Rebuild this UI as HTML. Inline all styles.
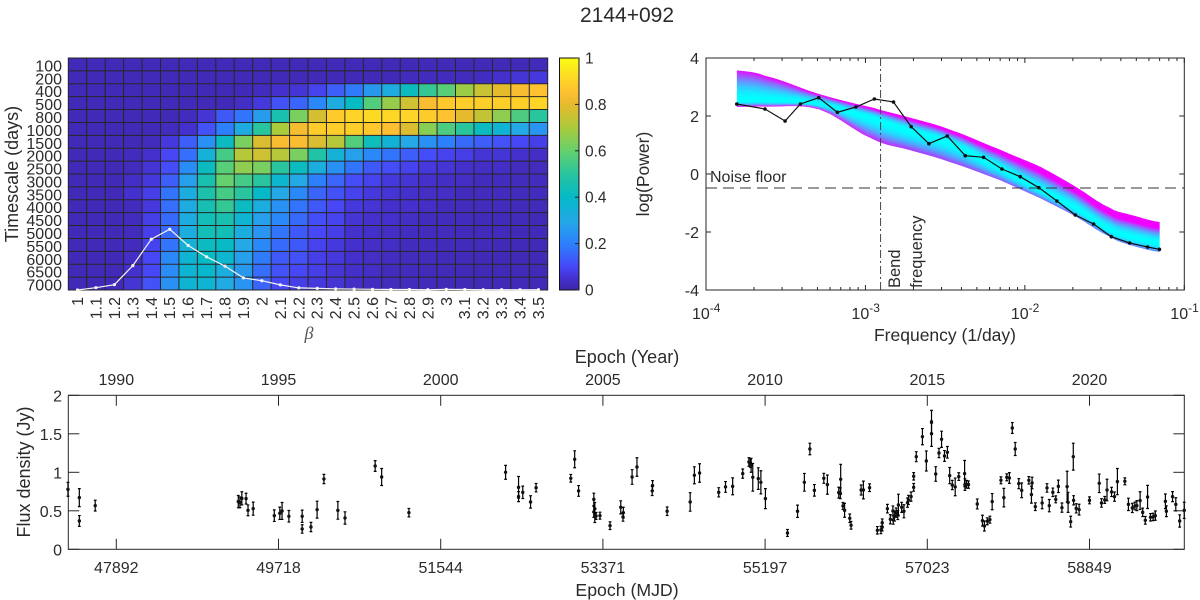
<!DOCTYPE html>
<html>
<head>
<meta charset="utf-8">
<title>2144+092</title>
<style>
html,body{margin:0;padding:0;background:#fff;}
#chart{display:block;position:absolute;left:0;top:0;}
text{font-family:"Liberation Sans",Arial,sans-serif;fill:#2b2b2b;font-size:16px;}
</style>
</head>
<body>
<svg id="chart" width="1200" height="600" viewBox="0 0 1200 600" xmlns="http://www.w3.org/2000/svg">
  <defs id="bandDefs"></defs>
  <rect x="0" y="0" width="1200" height="600" fill="#fff"/>
  <text x="627" y="22" text-anchor="middle" style="font-size:21px">2144+092</text>

  <g id="heat"></g>
  <text transform="translate(18,174) rotate(-90)" text-anchor="middle" style="font-size:18px">Timescale (days)</text>
  <text x="309" y="339" text-anchor="middle" style="font-family:'Liberation Serif',serif;font-style:italic;font-size:18px;fill:#555">β</text>
  <g id="cbar"></g>

  <g id="psd"></g>
  <text transform="translate(649,174) rotate(-90)" text-anchor="middle" style="font-size:17.5px">log(Power)</text>
  <text x="945" y="341" text-anchor="middle" style="font-size:17.5px">Frequency (1/day)</text>
  <text x="710" y="182" style="font-size:16px">Noise floor</text>
  <text transform="translate(900,288) rotate(-90)" style="font-size:16.5px">Bend</text>
  <text transform="translate(922,288) rotate(-90)" style="font-size:16.5px">frequency</text>

  <g id="lc"></g>
  <text transform="translate(30,472) rotate(-90)" text-anchor="middle" style="font-size:18px">Flux density (Jy)</text>
  <text x="627" y="363" text-anchor="middle" style="font-size:18px">Epoch (Year)</text>
  <text x="627" y="596" text-anchor="middle" style="font-size:17.7px">Epoch (MJD)</text>
</svg>
<script>
// ---------- heatmap data ----------
var betaLabels = ["1","1.1","1.2","1.3","1.4","1.5","1.6","1.7","1.8","1.9","2","2.1","2.2","2.3","2.4","2.5","2.6","2.7","2.8","2.9","3","3.1","3.2","3.3","3.4","3.5"];
var timescaleLabels = ["100","200","400","500","800","1000","1500","2000","2500","3000","3500","4000","4500","5000","5500","6000","6500","7000"];
var heatValues = [
[.02,.02,.02,.02,.02,.02,.02,.02,.02,.02,.02,.02,.02,.02,.02,.02,.02,.02,.02,.02,.02,.02,.02,.02,.02,.025],
[.02,.02,.02,.02,.02,.02,.02,.02,.02,.02,.02,.02,.02,.02,.02,.02,.02,.02,.03,.03,.03,.03,.035,.05,.06,.07],
[.02,.02,.02,.02,.02,.02,.02,.02,.02,.02,.03,.05,.06,.09,.14,.19,.26,.32,.42,.52,.58,.68,.75,.8,.84,.86],
[.02,.02,.02,.02,.02,.02,.02,.02,.02,.04,.07,.12,.15,.22,.32,.41,.57,.67,.76,.84,.875,.89,.89,.89,.895,.905],
[.02,.02,.02,.02,.02,.02,.03,.06,.13,.18,.27,.46,.63,.77,.885,.905,.92,.91,.905,.885,.86,.8,.74,.66,.56,.5],
[.02,.02,.02,.02,.02,.03,.05,.12,.2,.32,.5,.7,.83,.885,.89,.89,.875,.85,.78,.65,.56,.5,.42,.36,.3,.25],
[.02,.02,.02,.02,.03,.07,.14,.24,.42,.63,.78,.84,.84,.78,.72,.57,.43,.36,.3,.24,.2,.16,.14,.12,.1,.08],
[.02,.02,.02,.03,.05,.1,.17,.35,.55,.72,.76,.72,.63,.48,.35,.28,.22,.18,.14,.11,.09,.08,.06,.06,.05,.04],
[.02,.02,.02,.03,.06,.11,.23,.42,.58,.66,.63,.5,.42,.33,.24,.18,.13,.11,.09,.07,.06,.05,.04,.04,.03,.03],
[.02,.02,.02,.04,.07,.14,.28,.46,.6,.55,.5,.38,.3,.2,.15,.11,.09,.07,.06,.05,.04,.04,.03,.03,.03,.03],
[.02,.02,.02,.05,.08,.18,.33,.47,.55,.5,.4,.3,.22,.15,.12,.09,.07,.06,.05,.04,.04,.03,.03,.03,.03,.03],
[.02,.02,.02,.03,.07,.17,.32,.45,.52,.42,.33,.24,.18,.13,.1,.07,.06,.05,.05,.04,.03,.03,.03,.03,.025,.025],
[.02,.02,.02,.03,.08,.16,.32,.44,.46,.37,.28,.22,.16,.11,.09,.06,.05,.05,.04,.03,.03,.03,.025,.025,.025,.02],
[.02,.02,.02,.03,.08,.16,.33,.44,.44,.33,.25,.18,.13,.1,.08,.05,.045,.04,.035,.03,.03,.025,.025,.025,.02,.02],
[.02,.02,.02,.03,.09,.18,.35,.42,.41,.3,.22,.16,.13,.09,.07,.05,.04,.04,.03,.03,.025,.025,.025,.02,.02,.02],
[.02,.02,.02,.04,.1,.22,.37,.41,.38,.28,.19,.13,.12,.08,.07,.05,.04,.035,.03,.03,.025,.025,.02,.02,.02,.02],
[.02,.02,.02,.05,.1,.23,.37,.39,.33,.26,.17,.12,.1,.08,.06,.045,.04,.03,.03,.025,.025,.02,.02,.02,.02,.02],
[.02,.02,.02,.06,.12,.24,.37,.37,.31,.25,.15,.1,.08,.07,.06,.04,.035,.03,.03,.025,.02,.02,.02,.02,.02,.02]
];
var marginalValues = [0,.01,.023,.105,.219,.262,.192,.143,.103,.052,.04,.022,.009,.007,.005,.004,.003,.002,.002,.001,.003,.002,.001,.001,.001,.001];
var colorbarTicks = [0,.2,.4,.6,.8,1];

// ---------- spectrum data ----------
var psdLogFreq = [-3.807,-3.63,-3.504,-3.408,-3.293,-3.176,-3.06,-2.944,-2.824,-2.713,-2.602,-2.487,-2.374,-2.259,-2.144,-2.029,-1.912,-1.799,-1.684,-1.569,-1.458,-1.343,-1.23,-1.156];
var psdLogPower = [2.414,2.241,1.828,2.414,2.631,2.128,2.31,2.586,2.483,1.631,1.045,1.31,.631,.576,.172,-.093,-.472,-.931,-1.414,-1.724,-2.162,-2.379,-2.517,-2.597];
var bandLogFreq = [-3.805,-3.63,-3.291,-2.952,-2.719,-2.468,-2.154,-1.903,-1.684,-1.464,-1.338,-1.156];
var bandUpper = [3.562,3.379,2.748,2.276,1.931,1.517,.828,.241,-.438,-1.183,-1.414,-1.666];
var bandCore = [2.52,2.52,2.42,1.931,1.483,1.069,.2,-.552,-1.172,-1.931,-2.172,-2.379];
var bandLower = [2.32,2.33,2.24,1.207,.828,.414,-.207,-.828,-1.448,-2.162,-2.448,-2.679];
var noiseFloor = -0.483;
var bendLogFreq = -2.905;
var psdYTicks = [-4,-2,0,2,4];
var psdXDecades = [-4,-3,-2,-1];

// ---------- light curve data ----------
var epochYear = [1988.51,1988.86,1988.86,1989.35,1993.76,1993.81,1993.87,1994.0,1994.06,1994.22,1994.87,1995.04,1995.11,1995.32,1995.73,1995.73,1996.0,1996.19,1996.4,1996.83,1997.05,1997.98,1998.18,1999.02,
2002.0,2002.4,2002.4,2002.53,2002.77,2002.94,2004.01,2004.13,2004.25,2004.72,2004.72,2004.75,2004.75,2004.79,2004.91,2005.22,2005.55,2005.63,2005.62,2005.9,2006.05,2006.53,2006.52,2006.98,2007.69,2007.82,2007.98,2008.57,2008.78,2009.0,2009.31,2009.5,2009.55,2009.57,2009.62,2009.79,2009.87,2010.01,2010.69,2011.0,2011.21,2011.38,2011.52,2011.81,2011.92,
2012.27,2012.33,2012.32,2012.4,2012.45,2012.61,2012.65,2012.96,2013.03,2013.22,2013.46,2013.57,2013.61,2013.61,2013.77,2013.86,2013.94,2013.95,2013.99,2014.04,2014.09,2014.11,2014.21,2014.28,2014.39,2014.42,2014.5,2014.58,2014.58,2014.66,2014.85,2014.97,2015.13,2015.13,2015.26,2015.36,2015.44,2015.53,2015.62,2015.69,2015.77,2015.86,2015.97,2016.15,2016.16,2016.21,2016.27,2016.54,2016.7,2016.76,2016.85,2016.93,2017.0,2017.27,2017.36,2017.45,2017.53,2017.62,2017.71,2017.82,2017.91,2018.13,2018.23,2018.21,2018.33,2018.54,2018.76,2018.69,2018.87,2018.96,2019.04,2019.15,2019.31,2019.34,2019.42,2019.5,2019.51,2019.59,2019.68,2020.0,2020.3,2020.37,2020.47,2020.54,2020.68,2020.77,2020.86,2021.09,2021.2,2021.32,2021.4,2021.46,2021.56,2021.64,2021.72,2021.79,2021.88,2021.96,2022.03,2022.34,2022.37,2022.56,2022.66,2022.78,2022.92];
var fluxJy = [.779,.671,.368,.567,.619,.61,.662,.658,.506,.528,.437,.468,.498,.429,.429,.264,.29,.515,.913,.506,.407,1.082,.939,.476,
1.0,.805,.684,.74,.615,.8,.922,1.169,.758,.649,.485,.528,.433,.433,.437,.307,.545,.476,.42,.939,1.069,.827,.758,.494,.615,.961,.991,.74,.81,.818,.983,1.134,1.117,1.091,.935,.918,.87,.658,.212,.494,.87,1.303,.766,.922,.84,
.736,.909,.727,.563,.506,.403,.312,.77,.77,.8,.247,.251,.286,.346,.528,.39,.498,.381,.433,.476,.446,.576,.545,.494,.606,.641,.684,.805,.948,1.203,1.463,1.147,1.502,1.649,.978,1.251,1.429,1.212,1.26,.957,.835,.81,.944,.983,.84,.844,.84,.589,.372,.303,.364,.385,.619,.896,.671,.935,.926,1.576,1.303,.853,.766,.896,.861,.71,.554,.602,.567,.797,.74,.649,.818,.541,.814,.61,.359,1.203,.636,.532,.515,.636,.857,.602,.641,.77,.745,.684,.879,.883,.584,.537,.563,.567,.632,.48,.377,.68,.416,.42,.437,.623,.494,.684,.584,.368,.506];
var fluxErr = [.09,.117,.07,.07,.08,.07,.085,.07,.07,.085,.075,.08,.11,.075,.08,.055,.06,.11,.06,.115,.08,.07,.11,.055,
.09,.14,.065,.08,.08,.055,.05,.11,.07,.08,.07,.08,.085,.045,.045,.05,.085,.07,.055,.095,.12,.065,.06,.055,.12,.11,.12,.06,.07,.11,.06,.055,.055,.09,.18,.14,.15,.13,.045,.08,.115,.075,.075,.065,.125,
.07,.195,.07,.045,.09,.055,.05,.065,.115,.05,.048,.048,.048,.048,.055,.06,.065,.055,.065,.06,.06,.14,.065,.085,.06,.06,.06,.05,.048,.065,.105,.13,.165,.155,.095,.06,.105,.07,.075,.105,.06,.115,.05,.17,.075,.05,.048,.065,.07,.065,.045,.045,.105,.045,.12,.045,.07,.07,.085,.065,.095,.048,.075,.11,.05,.075,.08,.055,.055,.045,.08,.06,.2,.13,.07,.175,.06,.06,.07,.045,.12,.055,.045,.14,.06,.06,.17,.045,.08,.06,.05,.065,.115,.055,.05,.15,.048,.048,.06,.095,.07,.065,.085,.08,.105];
var yearTicks = [1990,1995,2000,2005,2010,2015,2020];
var mjdTickLabels = ["47892","49718","51544","53371","55197","57023","58849"];
var fluxTicks = [0,.5,1,1.5,2];
var fluxTickLabels = ["0","0.5","1","1.5","2"];
var colorbarLabels = ["0","0.2","0.4","0.6","0.8","1"];

// ---------- helpers ----------
var NS = 'http://www.w3.org/2000/svg';
function mk(parent, tag, attrs, txt) {
  var el = document.createElementNS(NS, tag);
  for (var k in attrs) el.setAttribute(k, attrs[k]);
  if (txt !== undefined) el.textContent = txt;
  parent.appendChild(el);
  return el;
}
var AXIS = '#262626';
var stops = [[0,62,38,168],[.05,68,48,205],[.1,71,71,246],[.2,45,128,253],[.3,36,168,230],[.4,5,185,200],[.5,40,197,158],[.6,100,208,110],[.7,170,203,60],[.8,230,186,45],[.85,254,190,50],[.9,253,210,40],[1,249,251,21]];
function parula(v) {
  v = Math.max(0, Math.min(1, v));
  for (var i = 1; i < stops.length; i++) {
    if (v <= stops[i][0]) {
      var a = stops[i-1], b = stops[i], t = (v-a[0])/(b[0]-a[0]);
      return 'rgb(' + Math.round(a[1]+(b[1]-a[1])*t) + ',' + Math.round(a[2]+(b[2]-a[2])*t) + ',' + Math.round(a[3]+(b[3]-a[3])*t) + ')';
    }
  }
  return 'rgb(249,251,21)';
}

// ---------- heatmap ----------
(function () {
  var g = document.getElementById('heat');
  var L = 68.3, R = 547.7, T = 58, B = 290;
  var cw = (R-L)/betaLabels.length, rh = (B-T)/timescaleLabels.length;
  function colX(i) { return L + cw*i; }
  function rowY(j) { return T + rh*j; }
  function margY(v) { return B - v*232; }
  heatValues.forEach(function (row, j) {
    row.forEach(function (v, i) {
      var c = mk(g, 'rect', {x: colX(i), y: rowY(j), width: cw+.3, height: rh+.3, fill: parula(v)});
      
      
    });
  });
  for (var i = 1; i < betaLabels.length; i++) {
    var vl = mk(g, 'line', {x1: colX(i), x2: colX(i), y1: T, y2: B, stroke: '#2a2626', 'stroke-width': 1});
    
    
  }
  for (var j = 1; j < timescaleLabels.length; j++) {
    var hl = mk(g, 'line', {x1: L, x2: R, y1: rowY(j), y2: rowY(j), stroke: '#2a2626', 'stroke-width': 1});
    
    
  }
  var box = mk(g, 'rect', {x: L, y: T, width: R-L, height: B-T, fill: 'none', stroke: AXIS, 'stroke-width': 1});
  
  
  timescaleLabels.forEach(function (s, j) {
    var t = mk(g, 'text', {x: 62, y: rowY(j) + rh/2 + 7, 'text-anchor': 'end'}, s);
    
    
  });
  betaLabels.forEach(function (s, i) {
    var cx = colX(i) + cw/2 + 5.5;
    var t = mk(g, 'text', {transform: 'translate(' + cx + ',297) rotate(-90)', 'text-anchor': 'end'}, s);
    
    
  });
  var pts = marginalValues.map(function (v, i) { return (colX(i)+cw/2) + ',' + margY(v); }).join(' ');
  var pl = mk(g, 'polyline', {points: pts, fill: 'none', stroke: '#f4f4f4', 'stroke-width': 1.2});
  
  
  marginalValues.forEach(function (v, i) {
    var d = mk(g, 'circle', {cx: colX(i)+cw/2, cy: margY(v), r: 1.6, fill: '#f4f4f4'});
    
    
  });
})();

// ---------- colorbar ----------
(function () {
  var g = document.getElementById('cbar');
  var L = 559.5, R = 579, T = 58, B = 290;
  function y(v) { return B - v*(B-T); }
  for (var k = 0; k < 116; k++) {
    var s = mk(g, 'rect', {x: L, y: y((k+1)/116), width: R-L, height: (B-T)/116+.4, fill: parula((k+.5)/116)});
    
    
  }
  var b = mk(g, 'rect', {x: L, y: T, width: R-L, height: B-T, fill: 'none', stroke: '#111', 'stroke-width': 1});
  
  
  colorbarTicks.forEach(function (v, i) {
    var tk = mk(g, 'line', {x1: R-4, x2: R, y1: y(v), y2: y(v), stroke: '#222', 'stroke-width': 1});
    
    
    var t = mk(g, 'text', {x: 585, y: y(v)+5.5, style: 'font-size:15.5px'}, colorbarLabels[i]);
    
    
  });
})();

// ---------- spectrum ----------
(function () {
  var g = document.getElementById('psd');
  var defs = document.getElementById('bandDefs');
  var L = 706, R = 1184.3, T = 58, B = 290;
  function x(lf) { return L + (lf+4)*(R-L)/3; }
  function y(p) { return B - (p+4)*(B-T)/8; }
  function lerp(a, b, t) { return a + (b-a)*t; }
  var x0 = x(bandLogFreq[0]), xN = x(bandLogFreq[bandLogFreq.length-1]);
  function frac(i) { return (x(bandLogFreq[i])-x0)/(xN-x0); }
  // Catmull-Rom resampling so band edges are smooth curves through the read values
  function curve(f) {
    var P = bandLogFreq.map(function (lf, i) { return [x(lf), y(f(i))]; });
    var out = [];
    for (var i = 0; i < P.length-1; i++) {
      var p0 = P[Math.max(i-1,0)], p1 = P[i], p2 = P[i+1], p3 = P[Math.min(i+2,P.length-1)];
      for (var s = 0; s < 5; s++) {
        var u = s/5, u2 = u*u, u3 = u2*u;
        out.push([p1[0] + (p2[0]-p1[0])*u,
          .5*(2*p1[1] + (p2[1]-p0[1])*u + (2*p0[1]-5*p1[1]+4*p2[1]-p3[1])*u2 + (3*p1[1]-p0[1]-3*p2[1]+p3[1])*u3)]);
      }
    }
    out.push(P[P.length-1]);
    return out;
  }
  function rgb(r, gg, b) { return 'rgb(' + Math.round(r) + ',' + Math.round(gg) + ',' + Math.round(b) + ')'; }
  function topColor(d, t) {
    var e = Math.min(1, Math.pow(d, 1.9) * lerp(.95, 2.0, t));
    return rgb(240*e, 255*(1-e), 255);
  }
  function bottomColor(d, t) {
    var tr, tg;
    if (t < .2) { tr = 235; tg = 25; }
    else if (t < .4) { tr = lerp(235, 170, (t-.2)/.2); tg = lerp(25, 60, (t-.2)/.2); }
    else { tr = lerp(170, 100, (t-.4)/.6); tg = lerp(60, 140, (t-.4)/.6); }
    var e = Math.min(1, Math.pow(d, 1.9) * 1.1);
    return rgb(tr*e, 255+(tg-255)*e, 255);
  }
  var gid = 0;
  function strip(fa, fb, colorFn) {
    var id = 'bandGrad' + (gid++);
    var lg = mk(defs, 'linearGradient', {id: id, gradientUnits: 'userSpaceOnUse', x1: x0, y1: 0, x2: xN, y2: 0});
    bandLogFreq.forEach(function (lf, i) {
      mk(lg, 'stop', {offset: frac(i), 'stop-color': colorFn(frac(i))});
    });
    var a = curve(fa), b = curve(fb).reverse();
    var p = a.concat(b).map(function (q) { return q[0].toFixed(2) + ',' + q[1].toFixed(2); }).join(' ');
    var s = mk(g, 'polygon', {points: p, fill: 'url(#' + id + ')', stroke: 'url(#' + id + ')', 'stroke-width': .5});
    
    
  }
  var N = 22;
  for (var k = 0; k < N; k++) {
    (function (k) {
      var d = 1-(k+.5)/N;
      strip(function (i) { return lerp(bandUpper[i], bandCore[i], k/N); },
            function (i) { return lerp(bandUpper[i], bandCore[i], (k+1)/N); },
            function (t) { return topColor(d, t); });
      strip(function (i) { return lerp(bandLower[i], bandCore[i], k/N); },
            function (i) { return lerp(bandLower[i], bandCore[i], (k+1)/N); },
            function (t) { return bottomColor(d, t); });
    })(k);
  }
  var noise = mk(g, 'line', {x1: L, x2: R, y1: y(noiseFloor), y2: y(noiseFloor), stroke: '#333', 'stroke-width': .9, 'stroke-dasharray': '11 6'});
  
  
  var bend = mk(g, 'line', {x1: x(bendLogFreq), x2: x(bendLogFreq), y1: T, y2: B, stroke: '#444', 'stroke-width': 1, 'stroke-dasharray': '8 3 2 3'});
  
  
  var pts = psdLogFreq.map(function (f, i) { return x(f) + ',' + y(psdLogPower[i]); }).join(' ');
  var line = mk(g, 'polyline', {points: pts, fill: 'none', stroke: '#111', 'stroke-width': 1.2});
  
  
  psdLogFreq.forEach(function (f, i) {
    var d = mk(g, 'circle', {cx: x(f), cy: y(psdLogPower[i]), r: 1.8, fill: '#111'});
    
    
  });
  var box = mk(g, 'rect', {x: L, y: T, width: R-L, height: B-T, fill: 'none', stroke: AXIS, 'stroke-width': 1});
  
  
  psdYTicks.forEach(function (v) {
    [[L, L+5], [R, R-5]].forEach(function (e) {
      var tk = mk(g, 'line', {x1: e[0], x2: e[1], y1: y(v), y2: y(v), stroke: AXIS, 'stroke-width': 1});
      
      
    });
    var t = mk(g, 'text', {x: 699, y: y(v)+6, 'text-anchor': 'end'}, String(v));
    
    
  });
  psdXDecades.forEach(function (d) {
    for (var m = 1; m < 10; m++) {
      if (d === -1 && m > 1) break;
      var lf = d + Math.log10(m), len = m === 1 ? 5 : 3;
      [[B, B-len], [T, T+len]].forEach(function (e) {
        var tk = mk(g, 'line', {x1: x(lf), x2: x(lf), y1: e[0], y2: e[1], stroke: AXIS, 'stroke-width': 1});
        
        
      });
    }
    var t = mk(g, 'text', {x: x(d)-14, y: 319}, '10');
    
    
    var sup = mk(t, 'tspan', {dy: -7, style: 'font-size:12px'}, String(d));
    
    
  });
})();

// ---------- light curve ----------
(function () {
  var g = document.getElementById('lc');
  var L = 68.3, R = 1184.3, T = 395.3, B = 549.3;
  function x(yr) { return 116.3 + (yr-1990)*32.44; }
  function y(f) { return B - f*(B-T)/2; }
  var box = mk(g, 'rect', {x: L, y: T, width: R-L, height: B-T, fill: 'none', stroke: AXIS, 'stroke-width': 1});
  
  
  yearTicks.forEach(function (yr, i) {
    [[T, T+10.5], [B, B-10.5]].forEach(function (e) {
      var tk = mk(g, 'line', {x1: x(yr), x2: x(yr), y1: e[0], y2: e[1], stroke: AXIS, 'stroke-width': 1});
      
      
    });
    var ty = mk(g, 'text', {x: x(yr), y: 385, 'text-anchor': 'middle'}, String(yr));
    
    
    var tm = mk(g, 'text', {x: x(yr), y: 573, 'text-anchor': 'middle'}, mjdTickLabels[i]);
    
    
  });
  fluxTicks.forEach(function (f, i) {
    [[L, L+11], [R, R-11]].forEach(function (e) {
      var tk = mk(g, 'line', {x1: e[0], x2: e[1], y1: y(f), y2: y(f), stroke: AXIS, 'stroke-width': 1});
      
      
    });
    var t = mk(g, 'text', {x: 62, y: y(f)+6, 'text-anchor': 'end'}, fluxTickLabels[i]);
    
    
  });
  epochYear.forEach(function (yr, i) {
    var cx = x(yr), hi = y(fluxJy[i]+fluxErr[i]), lo = y(fluxJy[i]-fluxErr[i]);
    var bar = mk(g, 'path', {d: 'M' + cx + ' ' + hi + 'V' + lo + 'M' + (cx-1.4) + ' ' + hi + 'H' + (cx+1.4) + 'M' + (cx-1.4) + ' ' + lo + 'H' + (cx+1.4), fill: 'none', stroke: '#000', 'stroke-width': 1.2});
    
    
    var d = mk(g, 'circle', {cx: cx, cy: y(fluxJy[i]), r: 1.7, fill: '#111'});
    
    
  });
})();
</script>
</body>
</html>
